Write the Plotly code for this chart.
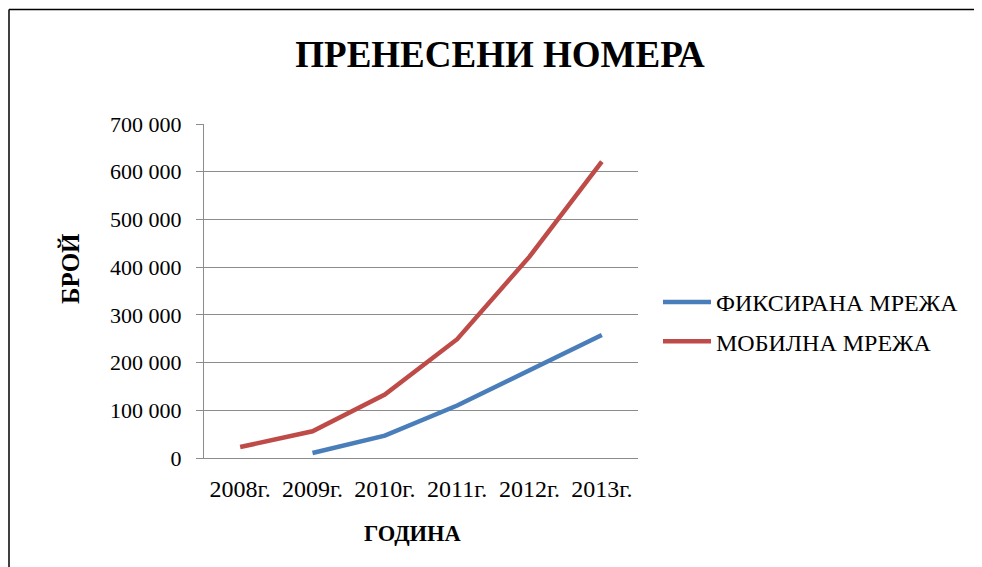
import plotly.graph_objects as go

years = ["2008г.", "2009г.", "2010г.", "2011г.", "2012г.", "2013г."]
fixed_years = ["2009г.", "2010г.", "2011г.", "2012г.", "2013г."]
fixed_values = [10500, 47000, 110000, 183000, 258000]
mobile_values = [23000, 56000, 133000, 249000, 422000, 621000]
series_names = ["ФИКСИРАНА МРЕЖА", "МОБИЛНА МРЕЖА"]
title_text = "ПРЕНЕСЕНИ НОМЕРА"
x_title = "ГОДИНА"
y_title = "БРОЙ"

FONT = "Liberation Serif"

fig = go.Figure()
fig.add_trace(go.Scatter(x=fixed_years, y=fixed_values, mode="lines", name=series_names[0],
                         legendgroup="a",
                         line=dict(color="#4A7EBB", width=4.5)))
fig.add_trace(go.Scatter(x=years, y=mobile_values, mode="lines", name=series_names[1],
                         legendgroup="b",
                         line=dict(color="#BE4B48", width=4.5)))

OFF = 8  # page body margin
L, R, T, B = 204, 638, 124, 458
W, H = 982 - OFF, 567 - OFF  # figure size so page does not overflow

def px(x):
    return (x - L) / (R - L)

def py(y):
    return (B - y) / (B - T)

border = dict(color="black", width=1.5)

fig.update_layout(
    width=W, height=H,
    margin=dict(l=L - OFF, r=W + OFF - R, t=T - OFF, b=H + OFF - B, pad=0),
    paper_bgcolor="white", plot_bgcolor="white",
    font=dict(family=FONT, size=22, color="black"),
    separators=". ",
    title=dict(text="<b>" + title_text + "</b>", x=px(500), xref="paper", xanchor="center",
               y=1 - (54 - OFF) / H, yanchor="middle", yref="container",
               font=dict(family=FONT, size=37, color="black")),
    showlegend=True,
    legend=dict(x=px(658), y=py(280), xanchor="left", yanchor="top",
                font=dict(family=FONT, size=24, color="black"),
                itemwidth=48,
                tracegroupgap=5, bgcolor="rgba(0,0,0,0)"),
    xaxis=dict(type="category", categoryorder="array", categoryarray=years,
               range=[-0.5, 5.5], showgrid=False, zeroline=False,
               showline=True, linecolor="#8c8c8c", linewidth=1, ticks="",
               ticklabelstandoff=9,
               tickfont=dict(family=FONT, size=24, color="black")),
    yaxis=dict(range=[0, 700000], dtick=100000, tickformat=",d",
               showgrid=True, gridcolor="#8c8c8c", gridwidth=1, zeroline=False,
               showline=True, linecolor="#8c8c8c", linewidth=1,
               ticks="outside", ticklen=7, tickcolor="#8c8c8c",
               ticklabelstandoff=10,
               tickfont=dict(family=FONT, size=22, color="black")),
    annotations=[
        dict(text="<b>" + x_title + "</b>", xref="paper", yref="paper",
             x=px(413), y=py(533), xanchor="center", yanchor="middle", showarrow=False,
             font=dict(family=FONT, size=22.5, color="black")),
        dict(text="<b>" + y_title + "</b>", xref="paper", yref="paper", textangle=-90,
             x=px(70), y=py(269), xanchor="center", yanchor="middle", showarrow=False,
             font=dict(family=FONT, size=25, color="black")),
    ],
    shapes=[
        dict(type="line", xref="paper", yref="paper", x0=px(9), x1=px(9), y0=py(600), y1=py(9.5), line=border),
        dict(type="line", xref="paper", yref="paper", x0=px(9), x1=px(978), y0=py(9.5), y1=py(9.5), line=border),
        dict(type="line", xref="paper", yref="paper", x0=px(978), x1=px(978), y0=py(600), y1=py(9.5), line=border),
    ],
)

fig.write_html("out.html")
